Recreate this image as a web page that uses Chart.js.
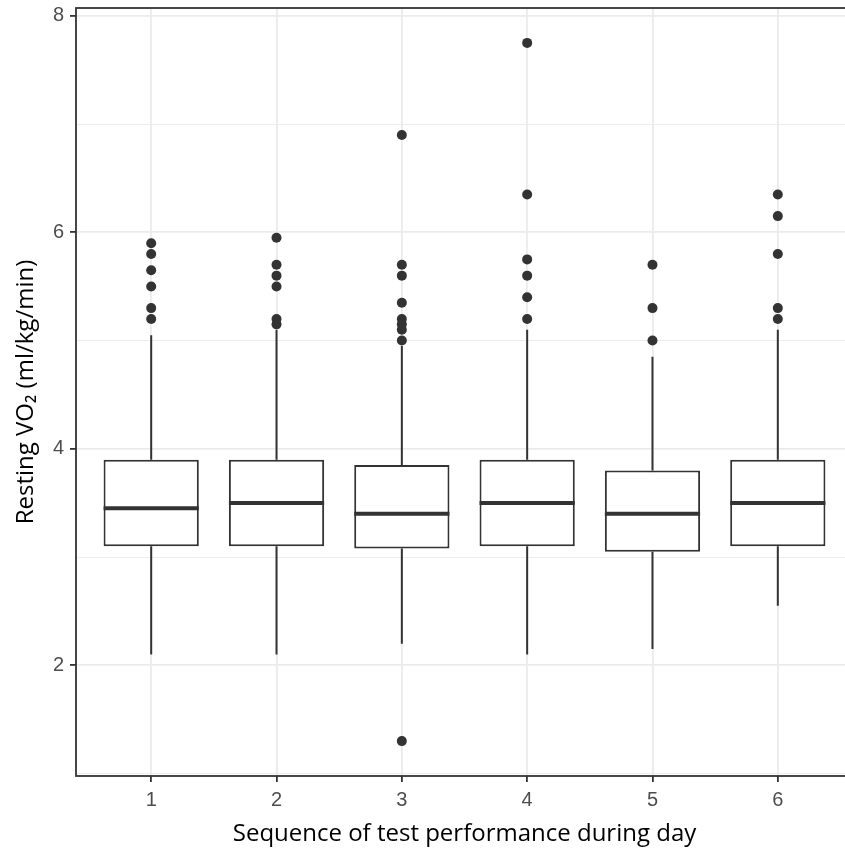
<!DOCTYPE html>
<html>
<head>
<meta charset="utf-8">
<script src="https://cdn.jsdelivr.net/npm/chart.js@4/dist/chart.umd.min.js"></script>
<style>
    html, body { margin: 0; padding: 0; background: #fff; overflow: hidden; }
    #wrap { width: 845px; height: 853px; overflow: hidden; }
</style>
</head>
<body>
<div id="wrap">
    <canvas id="chart" width="853" height="853"></canvas>
</div>
<script>
// categories on the x axis
const categories = ['1', '2', '3', '4', '5', '6'];

// box statistics per category
const whiskerLow = [2.1, 2.1, 2.2, 2.1, 2.15, 2.55];
const q1 = [3.1, 3.1, 3.08, 3.1, 3.05, 3.1];
const median = [3.45, 3.5, 3.4, 3.5, 3.4, 3.5];
const q3 = [3.9, 3.9, 3.85, 3.9, 3.8, 3.9];
const whiskerHigh = [5.05, 5.1, 4.95, 5.1, 4.85, 5.1];

// outliers per category
const outliers = [
    [5.9, 5.8, 5.65, 5.5, 5.3, 5.2],
    [5.95, 5.7, 5.6, 5.5, 5.2, 5.15],
    [6.9, 5.7, 5.6, 5.35, 5.2, 5.15, 5.1, 5.0, 1.3],
    [7.75, 6.35, 5.75, 5.6, 5.4, 5.2],
    [5.7, 5.3, 5.0],
    [6.35, 6.15, 5.8, 5.3, 5.2]
];

const yTicks = [1, 2, 3, 4, 5, 6, 7, 8];

const ink = '#333333';
const gridColor = '#EBEBEB';

const boxData = categories.map((c, i) => ({ x: i + 1, y: [q1[i], q3[i]] }));
const outlierPoints = [];
outliers.forEach((list, i) => {
    list.forEach(v => outlierPoints.push({ x: i + 1, y: v }));
});

// whiskers, medians and panel border
const boxExtras = {
    id: 'boxExtras',
    afterDatasetsDraw(chart) {
        const ctx = chart.ctx;
        const y = chart.scales.y;
        const meta = chart.getDatasetMeta(0);
        const area = chart.chartArea;
        ctx.save();
        ctx.strokeStyle = ink;
        ctx.lineCap = 'butt';
        meta.data.forEach((el, i) => {
            ctx.lineWidth = 2;
            ctx.beginPath();
            ctx.moveTo(el.x, y.getPixelForValue(q3[i]));
            ctx.lineTo(el.x, y.getPixelForValue(whiskerHigh[i]));
            ctx.moveTo(el.x, y.getPixelForValue(q1[i]));
            ctx.lineTo(el.x, y.getPixelForValue(whiskerLow[i]));
            ctx.stroke();

            ctx.lineWidth = 4;
            ctx.beginPath();
            ctx.moveTo(el.x - el.width / 2, y.getPixelForValue(median[i]));
            ctx.lineTo(el.x + el.width / 2, y.getPixelForValue(median[i]));
            ctx.stroke();
        });
        ctx.lineWidth = 1.8;
        ctx.strokeRect(area.left, area.top, area.right - area.left, area.bottom - area.top);
        ctx.restore();
    }
};

new Chart('chart', {
    type: 'bar',
    data: {
        datasets: [{
            data: boxData,
            backgroundColor: '#ffffff',
            borderColor: ink,
            borderWidth: 2,
            borderSkipped: false,
            barPercentage: 0.76,
            categoryPercentage: 1,
            order: 2
        }, {
            type: 'scatter',
            data: outlierPoints,
            backgroundColor: ink,
            borderWidth: 0,
            pointRadius: 5,
            order: 1
        }]
    },
    options: {
        responsive: false,
        animation: false,
        layout: { autoPadding: false, padding: { top: 8, right: 0, bottom: 0, left: 0 } },
        plugins: {
            legend: { display: false },
            tooltip: { enabled: false }
        },
        scales: {
            x: {
                type: 'linear',
                min: 0.4,
                max: 6.6,
                offset: false,
                afterBuildTicks: scale => {
                    scale.ticks = categories.map((c, i) => ({ value: i + 1 }));
                },
                afterFit: scale => {
                    scale.height = 77;
                    scale.paddingLeft = 0;
                    scale.paddingRight = 0;
                },
                grid: {
                    offset: false,
                    color: gridColor,
                    lineWidth: 1.8,
                    tickColor: ink,
                    tickLength: 6,
                    tickWidth: 1.8
                },
                border: { display: false },
                ticks: {
                    color: '#4D4D4D',
                    font: { family: 'Liberation Sans', size: 20 },
                    padding: 6,
                    maxRotation: 0,
                    callback: v => categories[v - 1]
                },
                title: {
                    display: true,
                    text: 'Sequence of test performance during day',
                    color: '#000',
                    font: { family: 'Open Sans', size: 24 },
                    padding: { top: 0, bottom: 4 }
                }
            },
            y: {
                min: 0.9775,
                max: 8.0725,
                afterBuildTicks: scale => {
                    scale.ticks = yTicks.map(v => ({ value: v }));
                },
                afterFit: scale => {
                    scale.width = 76;
                    scale.paddingTop = 0;
                    scale.paddingBottom = 0;
                },
                grid: {
                    color: gridColor,
                    lineWidth: c => (c.tick && c.tick.value % 2 === 0 ? 1.8 : 0.9),
                    tickColor: c => (c.tick && c.tick.value % 2 === 0 ? ink : 'rgba(0,0,0,0)'),
                    tickLength: 6,
                    tickWidth: 1.8
                },
                border: { display: false },
                ticks: {
                    color: '#4D4D4D',
                    font: { family: 'Liberation Sans', size: 20 },
                    padding: 6,
                    callback: v => (v % 2 === 0 ? String(v) : '')
                },
                title: {
                    display: true,
                    text: 'Resting VO₂ (ml/kg/min)',
                    color: '#000',
                    font: { family: 'Open Sans', size: 24 },
                    padding: { top: 12, bottom: 0 }
                }
            }
        }
    },
    plugins: [boxExtras]
});
</script>
</body>
</html>
